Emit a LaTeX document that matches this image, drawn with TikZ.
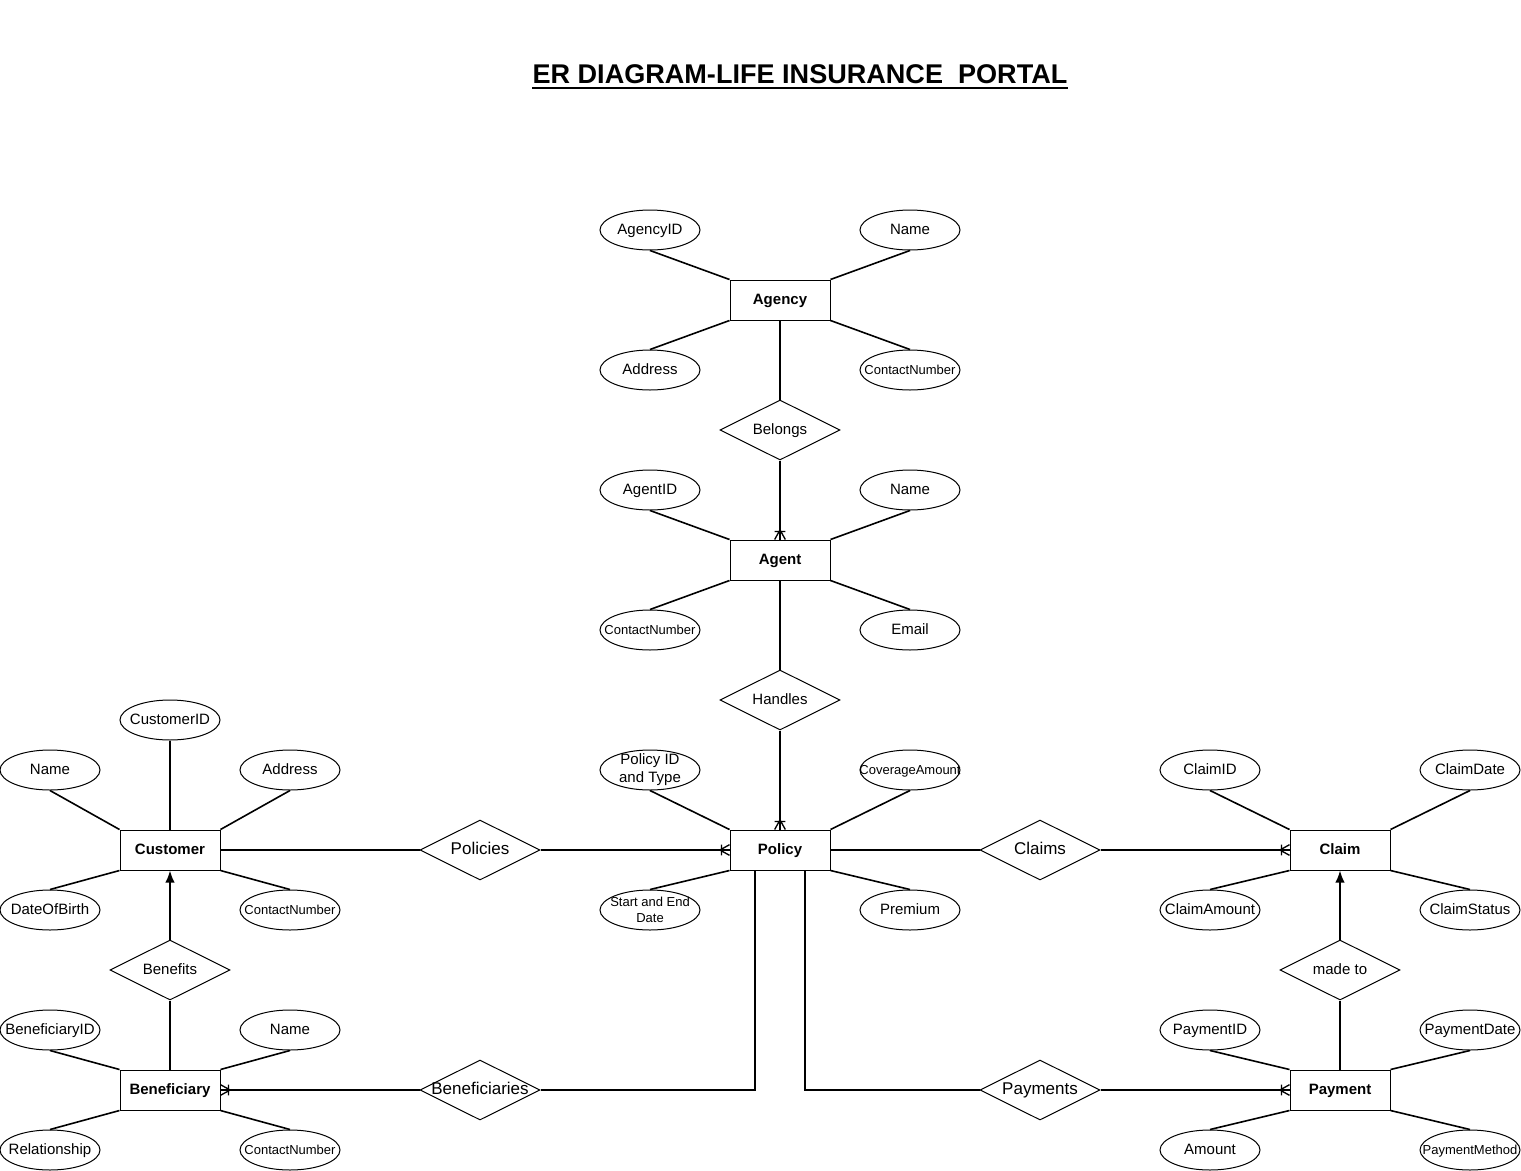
\documentclass[tikz,border=0pt]{standalone}
\usepackage{fontspec}
\setmainfont{Liberation Sans}
\usetikzlibrary{shapes.geometric,arrows.meta,calc}

\pgfarrowsdeclare{crowone}{crowone}
{\pgfarrowsleftextend{-8pt}\pgfarrowsrightextend{0pt}}
{
  \pgfsetdash{}{0pt}
  \pgfsetlinewidth{1pt}
  \pgfpathmoveto{\pgfpoint{-7.2pt}{0pt}}\pgfpathlineto{\pgfpoint{0pt}{4pt}}
  \pgfpathmoveto{\pgfpoint{-7.2pt}{0pt}}\pgfpathlineto{\pgfpoint{0pt}{-4pt}}
  \pgfpathmoveto{\pgfpoint{-7.2pt}{0pt}}\pgfpathlineto{\pgfpoint{0pt}{0pt}}
  \pgfpathmoveto{\pgfpoint{-6pt}{4pt}}\pgfpathlineto{\pgfpoint{-6pt}{-4pt}}
  \pgfusepathqstroke
}

\newcommand\fAttr{\fontsize{11.25pt}{13.5pt}\selectfont}
\newcommand\fSmall{\fontsize{9.75pt}{12pt}\selectfont}
\newcommand\fRel{\fontsize{11.25pt}{13.5pt}\selectfont}
\newcommand\fRelBig{\fontsize{12.75pt}{15pt}\selectfont}
\newcommand\fEnt{\bfseries\fontsize{11.25pt}{13.5pt}\selectfont}

\begin{document}
\begin{tikzpicture}[x=0.75pt,y=-0.75pt,
  ent/.style={draw, line width=0.75pt, minimum width=75pt, minimum height=30pt, inner sep=0pt, font=\fEnt,
     text height=0.9em, text depth=0.2em},
  attr/.style={draw, ellipse, line width=0.75pt, minimum width=75pt, minimum height=30pt, inner sep=0pt,
     label={[font=\fAttr, inner sep=0pt, text height=0.9em, text depth=0.2em]center:#1}},
  attrs/.style={draw, ellipse, line width=0.75pt, minimum width=75pt, minimum height=30pt, inner sep=0pt,
     label={[font=\fSmall, inner sep=0pt, text height=0.9em, text depth=0.2em]center:#1}},
  attrm/.style={draw, ellipse, line width=0.75pt, minimum width=75pt, minimum height=30pt, inner sep=0pt,
     label={[font=\fAttr, align=center, inner sep=0pt]center:#1}},
  attrms/.style={draw, ellipse, line width=0.75pt, minimum width=75pt, minimum height=30pt, inner sep=0pt,
     label={[font=\fSmall, align=center, inner sep=0pt]center:#1}},
  rel/.style={draw, diamond, line width=0.75pt, minimum width=90pt, minimum height=45pt, inner sep=0pt,
     label={[font=\fRel, inner sep=0pt, text height=0.9em, text depth=0.2em]center:#1}},
  relbig/.style={draw, diamond, line width=0.75pt, minimum width=90pt, minimum height=45pt, inner sep=0pt,
     label={[font=\fRelBig, inner sep=0pt, text height=0.9em, text depth=0.2em]center:#1}},
  conn/.style={line width=1.2pt},
  aline/.style={line width=1.2pt},
  many/.style={conn, -crowone},
  isa/.style={conn, -{Latex[length=9pt,width=7pt]}}
]
\useasboundingbox (0,0) rectangle (1521,1171);
\fill[white] (0,0) rectangle (1521,1171);

% Title
\node[font=\bfseries\fontsize{20.3pt}{24pt}\selectfont, inner sep=0pt, anchor=base] (title) at (800,83) {ER DIAGRAM-LIFE INSURANCE\ \ PORTAL};
\draw[line width=1.6pt] ($(title.base west)+(0,5)$) -- ($(title.base east)+(0,5)$);

% Entities
\node[ent] (agency) at (780,300) {Agency};
\node[ent] (agent) at (780,560) {Agent};
\node[ent] (policy) at (780,850) {Policy};
\node[ent] (customer) at (170,850) {Customer};
\node[ent] (claim) at (1340,850) {Claim};
\node[ent] (benef) at (170,1090) {Beneficiary};
\node[ent] (payment) at (1340,1090) {Payment};

% Agency attributes
\node[attr=AgencyID] (agencyid) at (650,230) {};
\node[attr=Name] (agencyname) at (910,230) {};
\node[attr=Address] (agencyaddr) at (650,370) {};
\node[attrs=ContactNumber] (agencycontact) at (910,370) {};
\draw[aline] (agencyid.south) -- (agency.north west);
\draw[aline] (agencyname.south) -- (agency.north east);
\draw[aline] (agencyaddr.north) -- (agency.south west);
\draw[aline] (agencycontact.north) -- (agency.south east);

% Agent attributes
\node[attr=AgentID] (agentid) at (650,490) {};
\node[attr=Name] (agentname) at (910,490) {};
\node[attrs=ContactNumber] (agentcontact) at (650,630) {};
\node[attr=Email] (agentemail) at (910,630) {};
\draw[aline] (agentid.south) -- (agent.north west);
\draw[aline] (agentname.south) -- (agent.north east);
\draw[aline] (agentcontact.north) -- (agent.south west);
\draw[aline] (agentemail.north) -- (agent.south east);

% Policy attributes
\node[attrm={Policy ID\\and Type}] (polid) at (650,770) {};
\node[attrs=CoverageAmount] (polcov) at (910,770) {};
\node[attrms={Start and End\\Date}] (poldate) at (650,910) {};
\node[attr=Premium] (polprem) at (910,910) {};
\draw[aline] (polid.south) -- (policy.north west);
\draw[aline] (polcov.south) -- (policy.north east);
\draw[aline] (poldate.north) -- (policy.south west);
\draw[aline] (polprem.north) -- (policy.south east);

% Customer attributes
\node[attr=CustomerID] (custid) at (170,720) {};
\node[attr=Name] (custname) at (50,770) {};
\node[attr=Address] (custaddr) at (290,770) {};
\node[attr=DateOfBirth] (custdob) at (50,910) {};
\node[attrs=ContactNumber] (custcontact) at (290,910) {};
\draw[aline] (custid.south) -- (customer.north);
\draw[aline] (custname.south) -- (customer.north west);
\draw[aline] (custaddr.south) -- (customer.north east);
\draw[aline] (custdob.north) -- (customer.south west);
\draw[aline] (custcontact.north) -- (customer.south east);

% Claim attributes
\node[attr=ClaimID] (claimid) at (1210,770) {};
\node[attr=ClaimDate] (claimdate) at (1470,770) {};
\node[attr=ClaimAmount] (claimamt) at (1210,910) {};
\node[attr=ClaimStatus] (claimstat) at (1470,910) {};
\draw[aline] (claimid.south) -- (claim.north west);
\draw[aline] (claimdate.south) -- (claim.north east);
\draw[aline] (claimamt.north) -- (claim.south west);
\draw[aline] (claimstat.north) -- (claim.south east);

% Beneficiary attributes
\node[attr=BeneficiaryID] (benid) at (50,1030) {};
\node[attr=Name] (benname) at (290,1030) {};
\node[attr=Relationship] (benrel) at (50,1150) {};
\node[attrs=ContactNumber] (bencontact) at (290,1150) {};
\draw[aline] (benid.south) -- (benef.north west);
\draw[aline] (benname.south) -- (benef.north east);
\draw[aline] (benrel.north) -- (benef.south west);
\draw[aline] (bencontact.north) -- (benef.south east);

% Payment attributes
\node[attr=PaymentID] (payid) at (1210,1030) {};
\node[attr=PaymentDate] (paydate) at (1470,1030) {};
\node[attr=Amount] (payamt) at (1210,1150) {};
\node[attrs=PaymentMethod] (paymeth) at (1470,1150) {};
\draw[aline] (payid.south) -- (payment.north west);
\draw[aline] (paydate.south) -- (payment.north east);
\draw[aline] (payamt.north) -- (payment.south west);
\draw[aline] (paymeth.north) -- (payment.south east);

% Relationships
\node[rel=Belongs] (belongs) at (780,430) {};
\node[rel=Handles] (handles) at (780,700) {};
\node[relbig=Policies] (policies) at (480,850) {};
\node[relbig=Claims] (claims) at (1040,850) {};
\node[rel=Benefits] (benefits) at (170,970) {};
\node[rel={made to}] (madeto) at (1340,970) {};
\node[relbig=Beneficiaries] (beneficiaries) at (480,1090) {};
\node[relbig=Payments] (payments) at (1040,1090) {};

% Connectors
\draw[conn] (agency.south) -- (belongs.north);
\draw[many] (belongs.south) -- (agent.north);
\draw[conn] (agent.south) -- (handles.north);
\draw[many] (handles.south) -- (policy.north);
\draw[conn] (customer.east) -- (policies.west);
\draw[many] (policies.east) -- (policy.west);
\draw[conn] (policy.east) -- (claims.west);
\draw[many] (claims.east) -- (claim.west);
\draw[isa] (benefits.north) -- (customer.south);
\draw[conn] (benef.north) -- (benefits.south);
\draw[isa] (madeto.north) -- (claim.south);
\draw[conn] (payment.north) -- (madeto.south);
\draw[conn] ($(policy.south)+(-25,0)$) |- (beneficiaries.east);
\draw[many] (beneficiaries.west) -- (benef.east);
\draw[conn] ($(policy.south)+(25,0)$) |- (payments.west);
\draw[many] (payments.east) -- (payment.west);
\end{tikzpicture}
\end{document}
